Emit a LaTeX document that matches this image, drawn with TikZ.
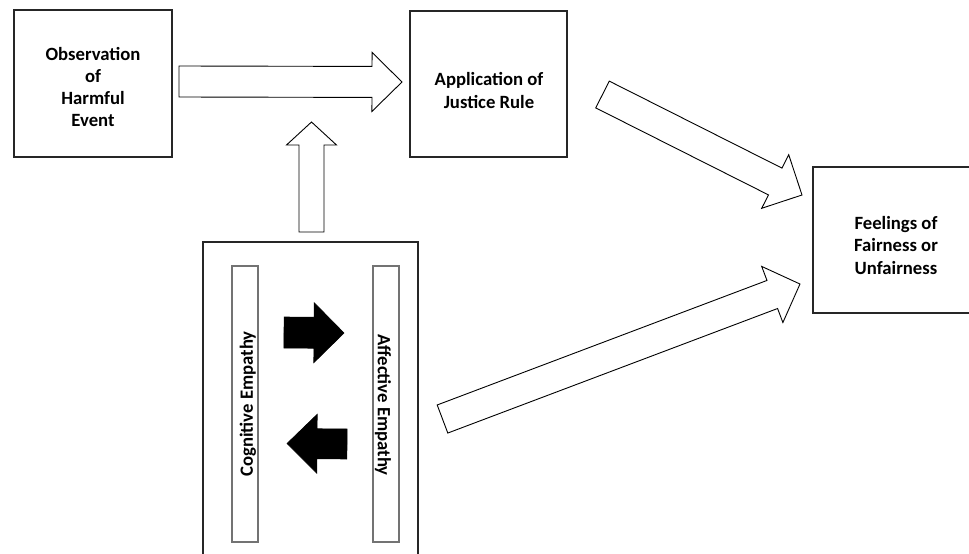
\documentclass[tikz,border=0pt]{standalone}
\usepackage{fontspec}
\setmainfont{Carlito}
\usetikzlibrary{calc}
\tikzset{
  box/.style={draw=black!85, line width=1.2pt, inner sep=0pt},
  innerbox/.style={draw=black!55, line width=1.3pt, inner sep=0pt, minimum width=26pt, minimum height=276pt},
  txt/.style={align=center, inner sep=0pt, font=\fontsize{18.7}{22.3}\selectfont\bfseries},
  hollow/.style={draw=black, line width=0.9pt, fill=white, line join=miter},
  solid/.style={draw=black, line width=0.6pt, fill=black, line join=miter}
}
% #1 tail, #2 tip, #3 half shaft, #4 half head, #5 head length, #6 style
\newcommand\myblockarrow[6]{%
  \path[#6] let \p1=(#1), \p2=(#2),
    \n1={atan2(\y2-\y1,\x2-\x1)}, \n2={veclen(\x2-\x1,\y2-\y1)} in
    ([shift={(\p1)},rotate=\n1]0pt,#3pt)
    -- ([shift={(\p1)},rotate=\n1]\n2-#5pt,#3pt)
    -- ([shift={(\p1)},rotate=\n1]\n2-#5pt,#4pt)
    -- ([shift={(\p1)},rotate=\n1]\n2,0pt)
    -- ([shift={(\p1)},rotate=\n1]\n2-#5pt,-#4pt)
    -- ([shift={(\p1)},rotate=\n1]\n2-#5pt,-#3pt)
    -- ([shift={(\p1)},rotate=\n1]0pt,-#3pt) -- cycle;}
\begin{document}
\begin{tikzpicture}[x=1pt,y=-1pt]
\useasboundingbox (0,0) rectangle (969,554);
% boxes
\node[box, minimum width=158pt, minimum height=147pt] (obs) at (93,83.5) {};
\node[box, minimum width=157pt, minimum height=146pt] (app) at (488.5,84) {};
\node[box, minimum width=157pt, minimum height=146pt] (feel) at (891.5,240) {};
\node[box, minimum width=215pt, minimum height=340pt] (emp) at (310.5,412) {};
\node[innerbox] (cog) at (245,404) {};
\node[innerbox] (aff) at (386,404) {};
% texts
\node[txt] (obst) at (93,87) {Observation\\of\\Harmful\\Event};
\node[txt] (appt) at (489,90.5) {Application of\\Justice Rule};
\node[txt] (feelt) at (896,245.5) {Feelings of\\Fairness or\\Unfairness};
\node[txt, rotate=90] (cogt) at (248,404) {Cognitive Empathy};
\node[txt, rotate=-90] (afft) at (383,405) {Affective Empathy};
% arrow end points
\coordinate (a1s) at (179,81.5);  \coordinate (a1e) at (402,82);
\coordinate (a2s) at (311.5,232); \coordinate (a2e) at (311.5,122);
\coordinate (a3s) at (602.5,94.5); \coordinate (a3e) at (802,195);
\coordinate (a4s) at (442.5,419); \coordinate (a4e) at (800,284);
\coordinate (a5s) at (284,332.5); \coordinate (a5e) at (344,333);
\coordinate (a6s) at (347,444);   \coordinate (a6e) at (287,443.5);
% block arrows
\myblockarrow{a1s}{a1e}{15.5}{29.5}{30}{hollow}
\myblockarrow{a2s}{a2e}{12.5}{25}{23}{hollow}
\myblockarrow{a3s}{a3e}{15}{30}{30}{hollow}
\myblockarrow{a4s}{a4e}{15}{30}{29.6}{hollow}
\myblockarrow{a5s}{a5e}{15.5}{30}{30}{solid}
\myblockarrow{a6s}{a6e}{15}{29.5}{30}{solid}
\end{tikzpicture}
\end{document}
